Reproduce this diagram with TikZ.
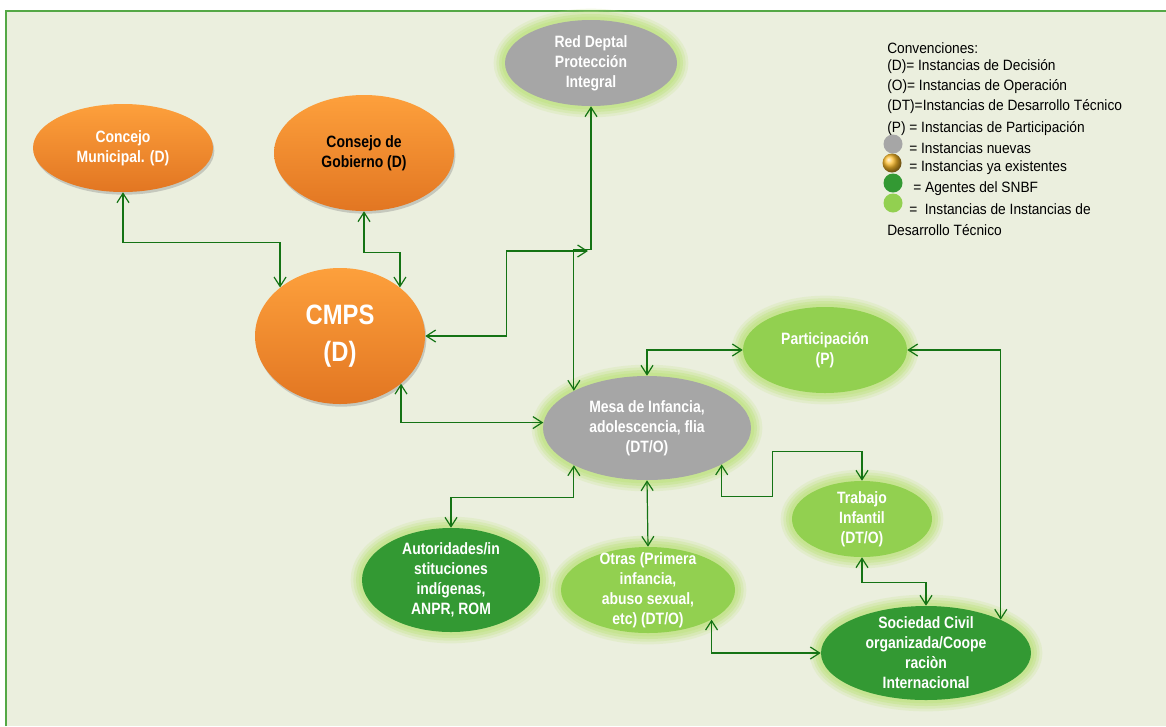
\documentclass[tikz,border=0pt]{standalone}
\usepackage{fontspec}
\setmainfont{Liberation Sans}
\newfontfamily\nodefont[FakeStretch=0.85]{Liberation Sans}
\newfontfamily\legfont[FakeStretch=0.92]{Liberation Sans}
\usetikzlibrary{shapes.geometric,arrows.meta,shadows}

% Colores
\definecolor{fondo}{RGB}{235,239,222}
\definecolor{marco}{RGB}{84,168,70}
\definecolor{gris}{RGB}{166,166,166}
\definecolor{verdeclaro}{RGB}{146,208,80}
\definecolor{verdeosc}{RGB}{51,153,51}
\definecolor{verdehalo}{RGB}{196,228,140}
\definecolor{flecha}{RGB}{20,115,20}
\definecolor{naranjaA}{RGB}{253,160,60}
\definecolor{naranjaB}{RGB}{226,118,34}

\begin{document}
\begin{tikzpicture}[x=0.75pt,y=-0.75pt,
    instancia/.style={ellipse, inner sep=-10pt, align=center, text=white,
      font=\nodefont\bfseries\fontsize{12.3}{15}\selectfont},
    % halo difuso: varias capas
    halo/.style={preaction={draw=verdehalo, line width=17pt, opacity=0.22},
      preaction={draw=verdehalo, line width=13pt, opacity=0.32},
      preaction={draw=verdehalo, line width=9pt, opacity=0.5},
      preaction={draw=verdehalo, line width=5pt, opacity=0.7}},
    existente/.style={instancia, top color=naranjaA, bottom color=naranjaB,
      drop shadow={opacity=0.35, shadow xshift=1pt, shadow yshift=-2pt}},
    nueva/.style={instancia, halo, fill=gris},
    tecnica/.style={instancia, halo, fill=verdeclaro},
    agente/.style={instancia, halo, fill=verdeosc},
    link/.style={draw=flecha, line width=0.9pt, <->,
      >={Straight Barb[length=7pt,width=9pt]}},
    leyenda/.style={anchor=west, inner sep=0pt,
      font=\legfont\fontsize{11.2}{13}\selectfont},
    punto/.style={circle, inner sep=0pt, minimum size=14.25pt}
  ]

    % Fondo y marco
    \useasboundingbox (0,0) rectangle (1166,726);
    \fill[white] (0,0) rectangle (1166,726);
    \fill[fondo] (6,11) rectangle (1166,726);
    \draw[marco, line width=1.5pt] (6,726) -- (6,11) -- (1166,11);

    % ---- Instancias ya existentes ----
    \node[existente, minimum width=135pt, minimum height=66pt] (concejo) at (123,148) {Concejo\\Municipal. (D)};
    \node[existente, text=black, minimum width=135pt, minimum height=87pt] (consejo) at (364,153) {Consejo de\\Gobierno (D)};
    \node[existente, minimum width=127.5pt, minimum height=102pt,
      font=\nodefont\bfseries\fontsize{21}{28}\selectfont] (cmps) at (340,336) {CMPS\\(D)};

    % ---- Instancias nuevas ----
    \node[nueva, minimum width=129pt, minimum height=64.5pt] (red) at (591,63) {Red Deptal\\Protección\\Integral};
    \node[nueva, minimum width=156pt, minimum height=78pt] (mesa) at (647,428) {Mesa de Infancia,\\adolescencia, flia\\(DT/O)};

    % ---- Desarrollo tecnico y agentes ----
    \node[tecnica, minimum width=123pt, minimum height=64.5pt] (part) at (825,350) {Participación\\(P)};
    \node[tecnica, minimum width=105pt, minimum height=57pt] (trabajo) at (862,519) {Trabajo\\Infantil\\(DT/O)};
    \node[agente, minimum width=133.5pt, minimum height=78pt] (autor) at (451,580) {Autoridades/in\\stituciones\\indígenas,\\ANPR, ROM};
    \node[tecnica, minimum width=130.5pt, minimum height=64.5pt] (otras) at (648,590) {Otras (Primera\\infancia,\\abuso sexual,\\etc) (DT/O)};
    \node[agente, minimum width=157.5pt, minimum height=70.5pt] (soc) at (926,653) {Sociedad Civil\\organizada/Coope\\raciòn\\Internacional};

    % ---- Conectores ----
    \coordinate (cruce) at (588,251);
    \draw[link] (concejo.south) -- ++(0,50) -| (cmps.141);
    \draw[link] (consejo.south) -- ++(0,41) -| (cmps.39);
    \draw[link] (cmps.east) -- ++(81,0) |- (cruce);
    \draw[link] (red.south) -- ++(0,143) -| (mesa.153);
    \draw[link] (cmps.322) |- (mesa.177);
    \draw[link] (mesa.north) |- (part.west);
    \draw[link] (part.east) -| (soc.24);
    \draw[link] (mesa.334) -- ++(0,32) -- ++(51,0) -- ++(0,-45) -| (trabajo.north);
    \draw[link] (mesa.207) -- ++(0,32) -| (autor.north);
    \draw[link] (mesa.south) -- (otras.north);
    \draw[link] (trabajo.south) -- ++(0,25) -| (soc.north);
    \draw[link] (otras.335) |- (soc.west);

    % ---- Convenciones ----
    \foreach \y/\txt [count=\i] in {48/{Convenciones:},
        67/{(D)= Instancias de Decisión},
        87/{(O)= Instancias de Operación},
        107/{(DT)=Instancias de Desarrollo Técnico},
        129/{(P) = Instancias de Participación},
        230/{Desarrollo Técnico}}{
      \node[leyenda] (ley\i) at (887,\y) {\txt};
    }
    \node[punto, fill=gris] (pgris) at (893,144) {};
    \node[punto, ball color=naranjaA!70!yellow] (pnaranja) at (892,163) {};
    \node[punto, fill=verdeosc] (pverde) at (893,183) {};
    \node[punto, fill=verdeclaro] (pclaro) at (893,203) {};
    \node[leyenda] (tgris) at (909,148) {= Instancias nuevas};
    \node[leyenda] (tnaranja) at (909,168) {= Instancias ya existentes};
    \node[leyenda] (tverde) at (913,189) {= Agentes del SNBF};
    \node[leyenda] (tclaro) at (909,209) {=\ \ Instancias de Instancias de};

\end{tikzpicture}
\end{document}
